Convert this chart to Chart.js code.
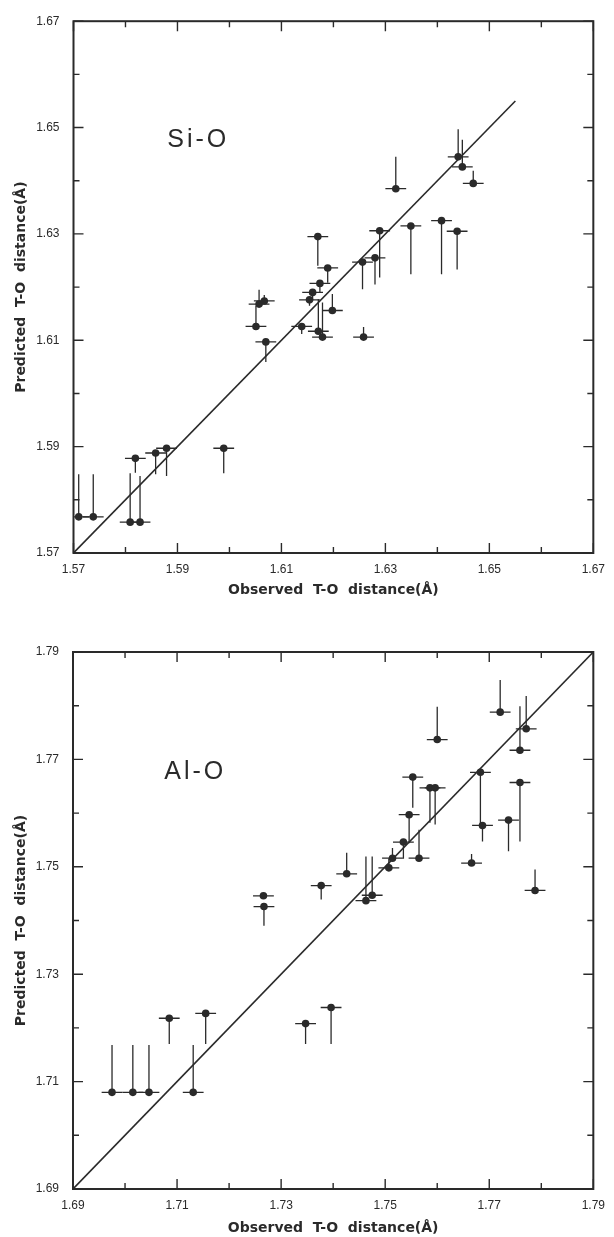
<!DOCTYPE html>
<html><head><meta charset="utf-8">
<script src="https://cdn.jsdelivr.net/npm/chart.js@4.4.1/dist/chart.umd.min.js"></script>
<style>
html,body{margin:0;padding:0;background:#fff;}
#w1{position:absolute;left:0;top:0;width:614px;height:610px;}
#w2{position:absolute;left:0;top:610px;width:614px;height:627px;}
</style></head><body>
<div id="w1"><canvas id="c1"></canvas></div>
<div id="w2"><canvas id="c2"></canvas></div>
<script>
// ---- Si-O panel data ----
const siObs  = [1.5710,1.5738,1.5809,1.5828,1.5819,1.5858,1.5879,1.5989,1.6051,1.6057,1.6067,1.6070,1.6139,1.6154,1.6160,1.6174,1.6170,1.6189,1.6198,1.6171,1.6179,1.6258,1.6256,1.6280,1.6289,1.6320,1.6349,1.6408,1.6438,1.6440,1.6448,1.6469];
const siPred = [1.5768,1.5768,1.5758,1.5758,1.5878,1.5888,1.5897,1.5897,1.6126,1.6168,1.6174,1.6097,1.6126,1.6176,1.6190,1.6207,1.6295,1.6236,1.6156,1.6117,1.6106,1.6106,1.6247,1.6255,1.6306,1.6385,1.6315,1.6325,1.6305,1.6445,1.6426,1.6395];
const siEnd  = [1.5848,1.5848,1.5850,1.5845,1.5851,1.5848,1.5845,1.5850,1.6165,1.6195,1.6185,1.6059,1.6112,1.6165,1.6175,1.6190,1.6240,1.6208,1.6187,1.6177,1.6171,1.6125,1.6196,1.6205,1.6218,1.6445,1.6224,1.6224,1.6233,1.6497,1.6477,1.6419];
const siTickLabels = ['1.57','1.59','1.61','1.63','1.65','1.67'];

// ---- Al-O panel data ----
const alObs  = [1.6975,1.7015,1.7046,1.7131,1.7085,1.7155,1.7266,1.7267,1.7347,1.7396,1.7377,1.7426,1.7463,1.7475,1.7507,1.7514,1.7535,1.7546,1.7553,1.7565,1.7586,1.7596,1.7600,1.7666,1.7683,1.7687,1.7721,1.7737,1.7759,1.7759,1.7771,1.7788];
const alPred = [1.7080,1.7080,1.7080,1.7080,1.7218,1.7227,1.7446,1.7426,1.7208,1.7238,1.7465,1.7487,1.7437,1.7447,1.7498,1.7516,1.7546,1.7597,1.7667,1.7516,1.7647,1.7647,1.7737,1.7507,1.7676,1.7577,1.7788,1.7587,1.7717,1.7657,1.7757,1.7456];
const alEnd  = [1.7168,1.7168,1.7168,1.7168,1.7170,1.7170,1.7446,1.7390,1.7170,1.7170,1.7439,1.7526,1.7519,1.7519,1.7515,1.7535,1.7515,1.7544,1.7610,1.7569,1.7582,1.7579,1.7798,1.7524,1.7579,1.7547,1.7848,1.7529,1.7799,1.7547,1.7818,1.7495];
const alTickLabels = ['1.69','1.71','1.73','1.75','1.77','1.79'];

const obsHalfWidth = 0.002;
const INK = '#2a2a2a';
const xTitle = 'Observed  T-O  distance(Å)';
const yTitle = 'Predicted  T-O  distance(Å)';

const errBars = {
  id: 'errBars',
  beforeDatasetsDraw(chart) {
    const o = chart.options.plugins.errBars;
    const xs = chart.scales.x, ys = chart.scales.y, ctx = chart.ctx, ca = chart.chartArea;
    ctx.save();
    ctx.beginPath();
    ctx.rect(ca.left, ca.top, ca.right - ca.left, ca.bottom - ca.top);
    ctx.clip();
    ctx.strokeStyle = INK; ctx.lineWidth = 1.3;
    o.obs.forEach((v, i) => {
      const px = xs.getPixelForValue(v);
      const py = ys.getPixelForValue(o.pred[i]);
      const pe = ys.getPixelForValue(o.end[i]);
      ctx.beginPath();
      ctx.moveTo(xs.getPixelForValue(v - o.hw), py);
      ctx.lineTo(xs.getPixelForValue(v + o.hw), py);
      ctx.moveTo(px, py); ctx.lineTo(px, pe);
      ctx.stroke();
    });
    ctx.restore();
  }
};

const frame = {
  id: 'frame',
  afterDraw(chart) {
    const ca = chart.chartArea, ctx = chart.ctx;
    const xs = chart.scales.x, ys = chart.scales.y;
    ctx.save();
    ctx.strokeStyle = INK; ctx.lineWidth = 2;
    ctx.strokeRect(ca.left, ca.top, ca.right - ca.left, ca.bottom - ca.top);
    ctx.lineWidth = 1.4;
    ctx.beginPath();
    xs.ticks.forEach(t => {
      const p = xs.getPixelForValue(t.value);
      const L = Math.round(t.value * 100) % 2 === 1 ? 10 : 6;
      ctx.moveTo(p, ca.bottom); ctx.lineTo(p, ca.bottom - L);
      ctx.moveTo(p, ca.top); ctx.lineTo(p, ca.top + L);
    });
    ys.ticks.forEach(t => {
      const p = ys.getPixelForValue(t.value);
      const L = Math.round(t.value * 100) % 2 === 1 ? 10 : 6;
      ctx.moveTo(ca.left, p); ctx.lineTo(ca.left + L, p);
      ctx.moveTo(ca.right, p); ctx.lineTo(ca.right - L, p);
    });
    ctx.stroke();
    // panel label
    const lb = chart.options.plugins.frame;
    ctx.fillStyle = INK;
    ctx.font = '25px "Liberation Sans", Arial, sans-serif';
    try { ctx.letterSpacing = '3px'; } catch (e) {}
    ctx.textAlign = 'center'; ctx.textBaseline = 'middle';
    ctx.fillText(lb.text, xs.getPixelForValue(lb.x), ys.getPixelForValue(lb.y));
    ctx.restore();
  }
};

function makeChart(id, c) {
  const tickFont = { family: '"Liberation Sans", Arial, sans-serif', size: 12 };
  const titleFont = { family: '"DejaVu Sans", sans-serif', size: 14, weight: 'bold' };
  const lab = (labels) => (v) => {
    const k = Math.round(v * 100);
    if (k % 2 !== 1) return '';
    const idx = Math.round((k - Math.round(c.min * 100)) / 2);
    return labels[idx] !== undefined ? labels[idx] : '';
  };
  return new Chart(document.getElementById(id), {
    type: 'scatter',
    data: {
      datasets: [
        { type: 'line', data: [{ x: c.min, y: c.min }, { x: c.lineTo, y: c.lineTo }],
          borderColor: INK, borderWidth: 1.6, pointRadius: 0, fill: false, order: 2 },
        { data: c.obs.map((v, i) => ({ x: v, y: c.pred[i] })),
          pointRadius: 3.8, backgroundColor: INK, borderColor: INK, borderWidth: 0, order: 1 }
      ]
    },
    options: {
      responsive: true, maintainAspectRatio: false, animation: false,
      layout: { padding: { top: c.padTop, right: c.padRight, left: 0, bottom: 0 } },
      plugins: {
        legend: { display: false }, tooltip: { enabled: false },
        errBars: { obs: c.obs, pred: c.pred, end: c.end, hw: obsHalfWidth },
        frame: { text: c.label, x: c.labelX, y: c.labelY }
      },
      scales: {
        x: {
          type: 'linear', min: c.min, max: c.max,
          ticks: { stepSize: 0.01, autoSkip: false, maxRotation: 0, minRotation: 0, padding: 9,
                   font: tickFont, color: INK, callback: lab(c.ticks) },
          grid: { display: false, drawTicks: false }, border: { display: false },
          title: { display: true, text: xTitle, color: INK, font: titleFont, padding: { top: 0, bottom: c.xTitlePad } },
          afterFit(s) { s.height = c.xH; }
        },
        y: {
          type: 'linear', min: c.min, max: c.max,
          ticks: { stepSize: 0.01, autoSkip: false, padding: 14,
                   font: tickFont, color: INK, callback: lab(c.ticks) },
          grid: { display: false, drawTicks: false }, border: { display: false },
          title: { display: true, text: yTitle, color: INK, font: titleFont, padding: { top: 12.6, bottom: 0 } },
          afterFit(s) { s.width = c.yW; }
        }
      }
    },
    plugins: [errBars, frame]
  });
}

makeChart('c1', { obs: siObs, pred: siPred, end: siEnd, ticks: siTickLabels,
  min: 1.57, max: 1.67, lineTo: 1.655, label: 'Si-O', labelX: 1.594, labelY: 1.6477,
  padTop: 16, padRight: 14, xH: 57, yW: 73.5, xTitlePad: 11.6 });
makeChart('c2', { obs: alObs, pred: alPred, end: alEnd, ticks: alTickLabels,
  min: 1.69, max: 1.79, lineTo: 1.79, label: 'Al-O', labelX: 1.7135, labelY: 1.7677,
  padTop: 42, padRight: 18, xH: 48, yW: 73, xTitlePad: 0 });
</script>
</body></html>
